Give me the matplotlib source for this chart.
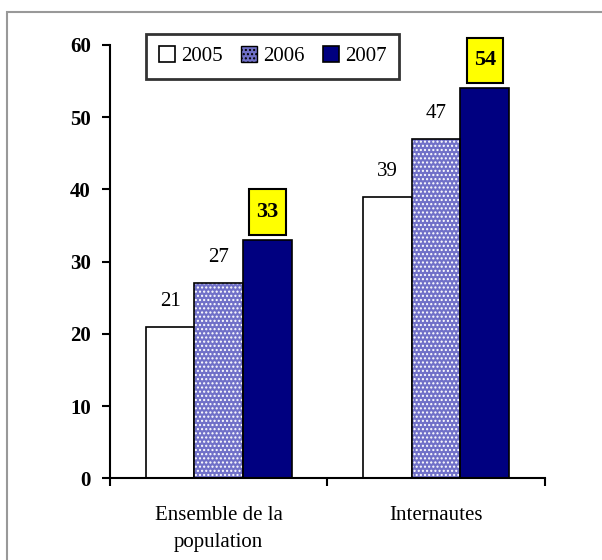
import matplotlib.pyplot as plt
from matplotlib.patches import Rectangle
import numpy as np

categories = ['Ensemble de la\npopulation', 'Internautes']
years = ['2005', '2006', '2007']
v2005 = [21, 39]
v2006 = [27, 47]
v2007 = [33, 54]

plt.rcParams['font.family'] = ['Liberation Serif', 'DejaVu Serif']

fig = plt.figure(figsize=(6.02, 5.6), dpi=100)
ax = fig.add_axes([0.183, 0.146, 0.722, 0.774])

# grey frame round the whole chart
fig.patches.append(Rectangle((0.012, -0.05), 1.05, 1.028, transform=fig.transFigure,
                             fill=False, edgecolor='#999999', linewidth=1.5))

x = np.arange(len(categories))
w = 0.224

b1 = ax.bar(x - w, v2005, w, color='white', edgecolor='black', linewidth=1.2, zorder=2)
# dotted bars: white dots on blue, then a black outline on top
ax.bar(x, v2006, w, color='#7070c8', edgecolor='white', hatch='....', linewidth=0, zorder=2)
ax.bar(x, v2006, w, fill=False, edgecolor='black', linewidth=1.2, zorder=3)
b3 = ax.bar(x + w, v2007, w, color='#000080', edgecolor='black', linewidth=1.2, zorder=2)

bw, bh = 0.166, 6.3
for i in range(len(categories)):
    ax.text(x[i] - w, v2005[i] + 2.2, str(v2005[i]), ha='center', va='bottom', fontsize=15)
    ax.text(x[i], v2006[i] + 2.2, str(v2006[i]), ha='center', va='bottom', fontsize=15)
    # yellow tag over the 2007 bar
    y0 = v2007[i] + 0.7
    ax.add_patch(Rectangle((x[i] + w - bw / 2, y0), bw, bh, facecolor='#ffff00',
                           edgecolor='black', linewidth=1.5, zorder=3, clip_on=False))
    ax.text(x[i] + w, y0 + bh / 2, str(v2007[i]), ha='center', va='center', fontsize=16,
            fontweight='bold', zorder=4)

ax.set_xlim(-0.5, 1.5)
ax.set_ylim(0, 60)
ax.set_yticks(range(0, 61, 10))
ax.set_xticks([-0.5, 0.5, 1.5])
ax.set_xticklabels([])
ax.set_xticks(x, minor=True)
ax.set_xticklabels(categories, minor=True, fontsize=15, linespacing=1.6)
ax.tick_params(axis='x', which='minor', length=0, pad=20)
ax.tick_params(axis='x', which='major', length=6, width=1.5)
ax.tick_params(axis='y', length=6, width=1.5, labelsize=15, pad=8)
for lab in ax.get_yticklabels():
    lab.set_fontweight('bold')
ax.spines['top'].set_visible(False)
ax.spines['right'].set_visible(False)
ax.spines['left'].set_linewidth(1.5)
ax.spines['bottom'].set_linewidth(1.5)

h2 = Rectangle((0, 0), 1, 1, facecolor='#7070c8', edgecolor='black', hatch='....')
leg = fig.legend([b1, h2, b3], years, loc='upper left', bbox_to_anchor=(0.226, 0.958),
                 ncol=3, fontsize=15, frameon=True, fancybox=False, edgecolor='black',
                 handlelength=0.75, handleheight=0.75, handletextpad=0.3, columnspacing=0.9,
                 borderpad=0.6)
leg.get_frame().set_linewidth(2)

fig.savefig('out.png', dpi=100)
